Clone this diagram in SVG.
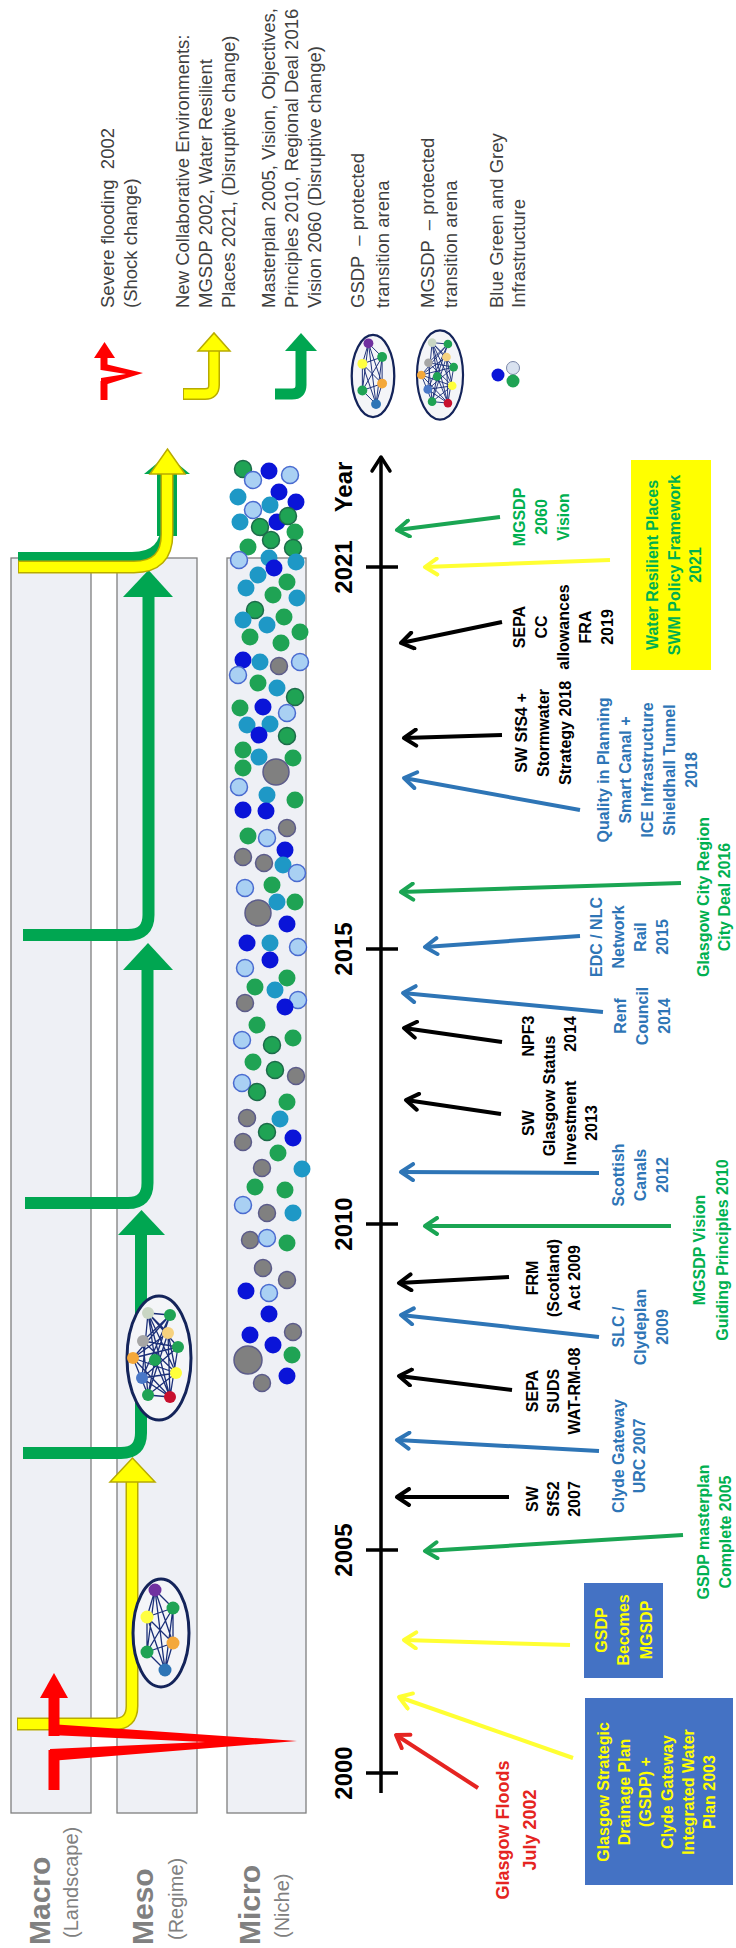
<svg xmlns="http://www.w3.org/2000/svg" xmlns:xlink="http://www.w3.org/1999/xlink" width="736" height="1948" viewBox="0 0 736 1948">
<defs>
<style>
.band{fill:#eef0f5;stroke:#7f7f7f;stroke-width:1.3}
.bl{font-family:'Liberation Sans',Arial,sans-serif;font-weight:bold;fill:#808080}
.bs{font-family:'Liberation Sans',Arial,sans-serif;fill:#808080;font-size:20px}
.lbl{font-family:'Liberation Sans',Arial,sans-serif;font-weight:bold;font-size:16px;text-anchor:middle}
.yr{font-family:'Liberation Sans',Arial,sans-serif;font-weight:bold;font-size:24px;text-anchor:middle;fill:#000}
.leg{font-family:'Liberation Sans',Arial,sans-serif;font-size:18.5px;fill:#404040;white-space:pre}
.tk{fill:#000}.tb{fill:#2e75b6}.tg{fill:#00b050}.tr{fill:#e52421;font-size:18px}.ty{fill:#ffff00}
.ev{fill:none;stroke-width:4}
.ek{stroke:#000;marker-end:url(#mk)}
.eb{stroke:#2e75b6;marker-end:url(#mb)}
.eg{stroke:#1aa553;marker-end:url(#mg)}
.ey{stroke:#ffff33;marker-end:url(#my)}
.er{stroke:#e52421;marker-end:url(#mr)}
.gL{fill:none;stroke:#00a651;stroke-width:12}
.gH{fill:#00a651}
.yO{fill:none;stroke:#b8ab00;stroke-width:13}
.yI{fill:none;stroke:#ffff00;stroke-width:10}
.yH{fill:#ffff00;stroke:#b8ab00;stroke-width:1.5}
.red{fill:#ff0000}
.redL{fill:none;stroke:#ff0000;stroke-width:11}
.cg{fill:#1fa354}
.cd{fill:#1fa354;stroke:#1d6b4a;stroke-width:1.5}
.cb{fill:#0a14d8}
.ct{fill:#1e98c6}
.cl{fill:#a9d0f3;stroke:#4a6bd0;stroke-width:1.5}
.ck{fill:#808080;stroke:#5c5c8a;stroke-width:1.5}
.ell{fill:#f4f5f8;stroke:#14245a;stroke-width:3}
.net{fill:none;stroke:#1b2f78;stroke-width:1.3}
</style>
<marker id="mk" viewBox="0 0 20 20" refX="17" refY="10" markerWidth="20" markerHeight="20" markerUnits="userSpaceOnUse" orient="auto"><path d="M5,2 L17,10 L5,18" fill="none" stroke="#000" stroke-width="4" stroke-linecap="round" stroke-linejoin="round"/></marker>
<marker id="mb" viewBox="0 0 20 20" refX="17" refY="10" markerWidth="20" markerHeight="20" markerUnits="userSpaceOnUse" orient="auto"><path d="M5,2 L17,10 L5,18" fill="none" stroke="#2e75b6" stroke-width="4" stroke-linecap="round" stroke-linejoin="round"/></marker>
<marker id="mg" viewBox="0 0 20 20" refX="17" refY="10" markerWidth="20" markerHeight="20" markerUnits="userSpaceOnUse" orient="auto"><path d="M5,2 L17,10 L5,18" fill="none" stroke="#1aa553" stroke-width="4" stroke-linecap="round" stroke-linejoin="round"/></marker>
<marker id="my" viewBox="0 0 20 20" refX="17" refY="10" markerWidth="20" markerHeight="20" markerUnits="userSpaceOnUse" orient="auto"><path d="M5,2 L17,10 L5,18" fill="none" stroke="#ffff33" stroke-width="4" stroke-linecap="round" stroke-linejoin="round"/></marker>
<marker id="mr" viewBox="0 0 20 20" refX="17" refY="10" markerWidth="20" markerHeight="20" markerUnits="userSpaceOnUse" orient="auto"><path d="M5,2 L17,10 L5,18" fill="none" stroke="#e52421" stroke-width="4" stroke-linecap="round" stroke-linejoin="round"/></marker>
<marker id="max" viewBox="0 0 24 24" refX="20" refY="12" markerWidth="24" markerHeight="24" markerUnits="userSpaceOnUse" orient="auto"><path d="M6,3 L20,12 L6,21" fill="none" stroke="#000" stroke-width="3.5" stroke-linecap="round" stroke-linejoin="round"/></marker>
<g id="netS">
<ellipse cx="0" cy="0" rx="54" ry="28" class="ell"/>
<path class="net" d="M43,-6L25,12M43,-6L16,-14M43,-6L-10,12M43,-6L-19,-14M43,-6L-37,4M25,12L16,-14M25,12L-10,12M25,12L-19,-14M25,12L-37,4M16,-14L-10,12M16,-14L-19,-14M16,-14L-37,4M-10,12L-19,-14M-10,12L-37,4M-19,-14L-37,4"/>
<circle cx="43" cy="-6" r="6.5" fill="#7030a0"/>
<circle cx="25" cy="12" r="6.5" fill="#1fa354"/>
<circle cx="16" cy="-14" r="6.5" fill="#ffff40"/>
<circle cx="-10" cy="12" r="6.5" fill="#f4a83a"/>
<circle cx="-19" cy="-14" r="6.5" fill="#1fa354"/>
<circle cx="-37" cy="4" r="6.5" fill="#2e75b6"/>
</g>
<g id="netM">
<ellipse cx="0" cy="0" rx="62" ry="32" class="ell"/>
<path class="net" d="M45,-11L43,11M45,-11L25,9M45,-11L11,19M45,-11L-2,-4M45,-11L-15,17M45,-11L-39,11M43,11L17,-16M43,11L0,-26M43,11L-2,-4M43,11L-20,-17M25,9L0,-26M25,9L-37,-11M25,9L-39,11M17,-16L11,19M17,-16L-15,17M17,-16L-37,-11M11,19L0,-26M11,19L-20,-17M11,19L-39,11M0,-26L-15,17M0,-26L-37,-11M-2,-4L-39,11M-2,-4L-37,-11M-15,17L-20,-17M-15,17L-37,-11M-20,-17L-39,11M45,-11L-20,-17M-37,-11L-39,11M0,-26L-39,11M25,9L-15,17"/>
<circle cx="45" cy="-11" r="6" fill="#c9d6c4"/>
<circle cx="43" cy="11" r="6" fill="#1fa354"/>
<circle cx="25" cy="9" r="6" fill="#f7d27e"/>
<circle cx="17" cy="-16" r="6" fill="#a6a6a6"/>
<circle cx="11" cy="19" r="6" fill="#1fa354"/>
<circle cx="0" cy="-26" r="6" fill="#f4a83a"/>
<circle cx="-2" cy="-4" r="6" fill="#1fa354"/>
<circle cx="-15" cy="17" r="6" fill="#ffff3a"/>
<circle cx="-20" cy="-17" r="6" fill="#4a78c8"/>
<circle cx="-37" cy="-11" r="6" fill="#1fa354"/>
<circle cx="-39" cy="11" r="6" fill="#c8102e"/>
</g>
</defs>
<rect x="0" y="0" width="736" height="1948" fill="#ffffff"/>
<g transform="translate(0,1948) rotate(-90)">

<g id="bands">
<rect class="band" x="135" y="11" width="1255" height="80"/>
<rect class="band" x="135" y="117" width="1255" height="80"/>
<rect class="band" x="135" y="227" width="1255" height="79"/>
<text class="bl" x="3" y="50" font-size="30">Macro</text>
<text class="bs" x="10" y="78">(Landscape)</text>
<text class="bl" x="3" y="153" font-size="30">Meso</text>
<text class="bs" x="8" y="183">(Regime)</text>
<text class="bl" x="3" y="260" font-size="30">Micro</text>
<text class="bs" x="10" y="289">(Niche)</text>
</g>

<g id="micro-circles">
<circle class="cd" cx="1479" cy="243" r="8.5"/><circle class="cb" cx="1477" cy="269" r="8.5"/><circle class="cl" cx="1473" cy="290" r="8.5"/><circle class="cl" cx="1468" cy="253" r="8.5"/><circle class="cb" cx="1456" cy="279" r="8.5"/><circle class="ct" cx="1451" cy="238" r="8.5"/><circle class="cb" cx="1446" cy="296" r="8.5"/><circle class="ct" cx="1443" cy="270" r="8.5"/><circle class="cl" cx="1438" cy="253" r="8.5"/><circle class="ct" cx="1426" cy="240" r="8.5"/><circle class="cb" cx="1426" cy="277" r="8.5"/><circle class="cd" cx="1432" cy="288" r="8.5"/><circle class="cd" cx="1421" cy="260" r="8.5"/><circle class="cg" cx="1416" cy="295" r="8.5"/><circle class="cd" cx="1408" cy="271" r="8.5"/><circle class="cg" cx="1401" cy="248" r="8.5"/><circle class="cd" cx="1400" cy="293" r="8.5"/><circle class="cl" cx="1388" cy="239" r="8.5"/><circle class="ct" cx="1390" cy="269" r="8.5"/><circle class="ct" cx="1386" cy="296" r="8.5"/><circle class="cb" cx="1380" cy="274" r="8.5"/><circle class="ct" cx="1373" cy="258" r="8.5"/><circle class="cg" cx="1366" cy="287" r="8.5"/><circle class="ct" cx="1360" cy="246" r="8.5"/><circle class="cg" cx="1353" cy="273" r="8.5"/><circle class="ct" cx="1350" cy="297" r="8.5"/><circle class="cd" cx="1338" cy="255" r="8.5"/><circle class="cg" cx="1331" cy="284" r="8.5"/><circle class="ct" cx="1328" cy="243" r="8.5"/><circle class="ct" cx="1323" cy="267" r="8.5"/><circle class="cg" cx="1316" cy="300" r="8.5"/><circle class="cg" cx="1311" cy="250" r="8.5"/><circle class="cg" cx="1305" cy="281" r="8.5"/><circle class="cb" cx="1288" cy="243" r="8.5"/><circle class="ct" cx="1286" cy="260" r="8.5"/><circle class="ck" cx="1282" cy="279" r="8.5"/><circle class="cl" cx="1286" cy="300" r="8.5"/><circle class="cl" cx="1273" cy="238" r="8.5"/><circle class="cg" cx="1265" cy="258" r="8.5"/><circle class="ct" cx="1260" cy="277" r="8.5"/><circle class="cd" cx="1251" cy="295" r="8.5"/><circle class="cg" cx="1240" cy="240" r="8.5"/><circle class="cb" cx="1241" cy="263" r="8.5"/><circle class="cl" cx="1235" cy="287" r="8.5"/><circle class="ct" cx="1223" cy="247" r="8.5"/><circle class="ct" cx="1224" cy="270" r="8.5"/><circle class="cb" cx="1213" cy="259" r="8.5"/><circle class="cd" cx="1212" cy="287" r="8.5"/><circle class="cg" cx="1198" cy="243" r="8.5"/><circle class="ct" cx="1191" cy="259" r="8.5"/><circle class="cg" cx="1190" cy="293" r="8.5"/><circle class="cg" cx="1180" cy="243" r="8.5"/><circle class="ck" cx="1176" cy="276" r="13"/><circle class="cl" cx="1161" cy="239" r="8.5"/><circle class="ct" cx="1153" cy="267" r="8.5"/><circle class="cg" cx="1148" cy="295" r="8.5"/><circle class="cb" cx="1138" cy="243" r="8.5"/><circle class="cb" cx="1137" cy="266" r="8.5"/><circle class="ck" cx="1120" cy="287" r="8.5"/><circle class="cg" cx="1112" cy="248" r="8.5"/><circle class="cl" cx="1110" cy="267" r="8.5"/><circle class="cb" cx="1098" cy="285" r="8.5"/><circle class="ck" cx="1091" cy="243" r="8.5"/><circle class="ck" cx="1085" cy="264" r="8.5"/><circle class="ct" cx="1083" cy="283" r="8.5"/><circle class="cl" cx="1075" cy="297" r="8.5"/><circle class="cg" cx="1063" cy="272" r="8.5"/><circle class="cl" cx="1060" cy="245" r="8.5"/><circle class="cg" cx="1046" cy="295" r="8.5"/><circle class="ct" cx="1046" cy="277" r="8.5"/><circle class="ck" cx="1035" cy="258" r="13"/><circle class="cb" cx="1024" cy="287" r="8.5"/>
<circle class="cb" cx="1005" cy="247" r="8.5"/><circle class="ct" cx="1005" cy="270" r="8.5"/><circle class="cl" cx="1001" cy="298" r="8.5"/><circle class="cb" cx="988" cy="270" r="8.5"/><circle class="cl" cx="980" cy="245" r="8.5"/><circle class="cg" cx="961" cy="255" r="8.5"/><circle class="ct" cx="958" cy="275" r="8.5"/><circle class="cg" cx="970" cy="287" r="8.5"/><circle class="cl" cx="948" cy="298" r="8.5"/><circle class="cb" cx="941" cy="285" r="8.5"/><circle class="ck" cx="945" cy="245" r="8.5"/><circle class="cg" cx="923" cy="257" r="8.5"/><circle class="cl" cx="908" cy="242" r="8.5"/><circle class="cd" cx="903" cy="272" r="8.5"/><circle class="cg" cx="910" cy="293" r="8.5"/><circle class="cg" cx="886" cy="253" r="8.5"/><circle class="cd" cx="878" cy="275" r="8.5"/><circle class="ck" cx="872" cy="296" r="8.5"/><circle class="cl" cx="865" cy="242" r="8.5"/><circle class="cd" cx="856" cy="257" r="8.5"/><circle class="cg" cx="846" cy="287" r="8.5"/><circle class="ct" cx="829" cy="280" r="8.5"/><circle class="ck" cx="830" cy="247" r="8.5"/><circle class="cd" cx="816" cy="267" r="8.5"/><circle class="cb" cx="810" cy="293" r="8.5"/><circle class="ck" cx="806" cy="243" r="8.5"/><circle class="cg" cx="795" cy="278" r="8.5"/><circle class="ck" cx="780" cy="262" r="8.5"/><circle class="ct" cx="779" cy="302" r="8.5"/><circle class="cg" cx="761" cy="255" r="8.5"/><circle class="cg" cx="758" cy="285" r="8.5"/><circle class="cl" cx="743" cy="243" r="8.5"/><circle class="ck" cx="735" cy="267" r="8.5"/><circle class="ct" cx="735" cy="293" r="8.5"/><circle class="ck" cx="708" cy="250" r="8.5"/><circle class="cl" cx="710" cy="267" r="8.5"/><circle class="cg" cx="705" cy="287" r="8.5"/><circle class="ck" cx="680" cy="263" r="8.5"/><circle class="ck" cx="668" cy="287" r="8.5"/><circle class="cb" cx="657" cy="246" r="8.5"/><circle class="cl" cx="655" cy="269" r="8.5"/><circle class="cb" cx="634" cy="269" r="8.5"/><circle class="ck" cx="616" cy="293" r="8.5"/><circle class="cb" cx="613" cy="250" r="8.5"/><circle class="cb" cx="603" cy="273" r="8.5"/><circle class="ck" cx="588" cy="248" r="14"/><circle class="cg" cx="593" cy="292" r="8.5"/><circle class="cb" cx="572" cy="287" r="8.5"/><circle class="ck" cx="565" cy="262" r="8.5"/>
</g>

<g id="transition-arrows">
<path class="yO" d="M224,17 V114 Q224,132 242,132 H467"/>
<path class="yI" d="M224,18 V114 Q224,132 242,132 H467"/>
<polygon class="yH" points="466,110 466,155 490,132.5"/>
<path class="gL" d="M495,23 V121 Q495,141 515,141 H714"/>
<polygon class="gH" points="713,118 713,165 738,141.5"/>
<path class="gL" d="M745,25 V128 Q745,147.5 765,147.5 H979"/>
<polygon class="gH" points="978,123 978,173 1005,148"/>
<path class="gL" d="M1013,23 V128 Q1013,148.5 1033,148.5 H1352"/>
<polygon class="gH" points="1351,123 1351,173 1378,148.5"/>
<path class="gL" d="M1390,18 V132 Q1390,167 1425,167 H1476"/>
<path d="M1412,167 H1476" fill="none" stroke="#00a651" stroke-width="20"/>
<polygon class="gH" points="1474,144 1474,190 1493,167"/>
<path class="yO" d="M1381,18 V134 Q1381,167 1414,167 H1476"/>
<path class="yI" d="M1381,19 V134 Q1381,167 1414,167 H1476"/>
<polygon class="yH" points="1474,150 1474,185 1499,167.5"/>
<path class="redL" d="M158,54 H198"/>
<polygon class="red" points="187,50 199,50 206,205 213,50 224,50 207,297"/>
<path class="redL" d="M212,54 H252"/>
<polygon class="red" points="250,40 250,68 275,54"/>
</g>

<g id="gsdp-arena"><use xlink:href="#netS" href="#netS" transform="translate(315,161)"/></g>
<g id="mgsdp-arena"><use xlink:href="#netM" href="#netM" transform="translate(590,159)"/></g>

<g id="timeline">
<line x1="155" y1="381" x2="1491" y2="381" stroke="#000" stroke-width="3.5" marker-end="url(#max)"/>
<path d="M175,366V398M398,366V398M724,366V398M999,366V398M1381,366V398" stroke="#000" stroke-width="3.5"/>
<text class="yr" x="175" y="352">2000</text>
<text class="yr" x="398" y="352">2005</text>
<text class="yr" x="724" y="352">2010</text>
<text class="yr" x="999" y="352">2015</text>
<text class="yr" x="1381" y="352">2021</text>
<text class="yr" x="1461" y="352">Year</text>
</g>

<g id="event-connectors">
<line class="ev er" x1="160" y1="478" x2="213" y2="396"/>
<line class="ev ey" x1="190" y1="573" x2="251" y2="399"/>
<line class="ev ey" x1="303" y1="570" x2="308" y2="404"/>
<line class="ev eg" x1="413" y1="683" x2="397" y2="425"/>
<line class="ev ek" x1="451" y1="509" x2="451" y2="397"/>
<line class="ev eb" x1="497" y1="599" x2="508" y2="397"/>
<line class="ev ek" x1="558" y1="512" x2="572" y2="399"/>
<line class="ev eb" x1="611" y1="599" x2="633" y2="401"/>
<line class="ev ek" x1="671" y1="509" x2="665" y2="399"/>
<line class="ev eg" x1="722" y1="671" x2="722" y2="425"/>
<line class="ev eb" x1="775" y1="599" x2="776" y2="401"/>
<line class="ev ek" x1="834" y1="501" x2="848" y2="406"/>
<line class="ev ek" x1="906" y1="502" x2="920" y2="404"/>
<line class="ev eb" x1="936" y1="603" x2="955" y2="403"/>
<line class="ev eb" x1="1012" y1="580" x2="1001" y2="425"/>
<line class="ev eg" x1="1065" y1="681" x2="1056" y2="401"/>
<line class="ev eb" x1="1138" y1="580" x2="1170" y2="404"/>
<line class="ev ek" x1="1213" y1="502" x2="1210" y2="404"/>
<line class="ev ek" x1="1326" y1="502" x2="1305" y2="401"/>
<line class="ev ey" x1="1388" y1="610" x2="1381" y2="425"/>
<line class="ev eg" x1="1431" y1="500" x2="1418" y2="397"/>
</g>

<g id="ev-floods"><text class="lbl tr" x="118" y="509">Glasgow Floods</text><text class="lbl tr" x="118" y="536">July 2002</text></g>
<g id="ev-gsdp-box"><rect x="63" y="585" width="187" height="148" fill="#4472c4"/>
<text class="lbl ty" x="156" y="609">Glasgow Strategic</text><text class="lbl ty" x="156" y="630">Drainage Plan</text><text class="lbl ty" x="156" y="651">(GSDP) +</text><text class="lbl ty" x="156" y="673">Clyde Gateway</text><text class="lbl ty" x="156" y="694">Integrated Water</text><text class="lbl ty" x="156" y="715">Plan 2003</text></g>
<g id="ev-mgsdp-box"><rect x="270" y="584" width="95" height="79" fill="#4472c4"/>
<text class="lbl ty" x="318" y="607">GSDP</text><text class="lbl ty" x="318" y="629">Becomes</text><text class="lbl ty" x="318" y="652">MGSDP</text></g>
<g id="ev-masterplan"><text class="lbl tg" x="416" y="709">GSDP masterplan</text><text class="lbl tg" x="416" y="731">Complete 2005</text></g>
<g id="ev-sfs2"><text class="lbl tk" x="449" y="538">SW</text><text class="lbl tk" x="449" y="559">SfS2</text><text class="lbl tk" x="449" y="580">2007</text></g>
<g id="ev-clyde"><text class="lbl tb" x="492" y="624">Clyde Gateway</text><text class="lbl tb" x="492" y="645">URC 2007</text></g>
<g id="ev-sepa-suds"><text class="lbl tk" x="557" y="538">SEPA</text><text class="lbl tk" x="557" y="559">SUDS</text><text class="lbl tk" x="557" y="580">WAT-RM-08</text></g>
<g id="ev-slc"><text class="lbl tb" x="621" y="624">SLC /</text><text class="lbl tb" x="621" y="646">Clydeplan</text><text class="lbl tb" x="621" y="668">2009</text></g>
<g id="ev-frm"><text class="lbl tk" x="670" y="538">FRM</text><text class="lbl tk" x="670" y="559">(Scotland)</text><text class="lbl tk" x="670" y="580">Act 2009</text></g>
<g id="ev-vision"><text class="lbl tg" x="698" y="705">MGSDP Vision</text><text class="lbl tg" x="698" y="728">Guiding Principles 2010</text></g>
<g id="ev-canals"><text class="lbl tb" x="773" y="624">Scottish</text><text class="lbl tb" x="773" y="646">Canals</text><text class="lbl tb" x="773" y="668">2012</text></g>
<g id="ev-sw-invest"><text class="lbl tk" x="825" y="534">SW</text><text class="lbl tk" x="825" y="555">Glasgow</text><text class="lbl tk" x="825" y="576">Investment</text><text class="lbl tk" x="825" y="597">2013</text></g>
<g id="ev-npf3"><text class="lbl tk" x="912" y="534">NPF3</text><text class="lbl tk" x="888" y="555">Status</text><text class="lbl tk" x="914" y="576">2014</text></g>
<g id="ev-renf"><text class="lbl tb" x="932" y="626">Renf</text><text class="lbl tb" x="932" y="648">Council</text><text class="lbl tb" x="932" y="670">2014</text></g>
<g id="ev-edc"><text class="lbl tb" x="1011" y="602">EDC / NLC</text><text class="lbl tb" x="1011" y="624">Network</text><text class="lbl tb" x="1011" y="646">Rail</text><text class="lbl tb" x="1011" y="668">2015</text></g>
<g id="ev-citydeal"><text class="lbl tg" x="1051" y="709">Glasgow City Region</text><text class="lbl tg" x="1051" y="730">City Deal 2016</text></g>
<g id="ev-quality"><text class="lbl tb" x="1178" y="609">Quality in Planning</text><text class="lbl tb" x="1178" y="631">Smart Canal +</text><text class="lbl tb" x="1178" y="653">ICE Infrastructure</text><text class="lbl tb" x="1178" y="675">Shieldhall Tunnel</text><text class="lbl tb" x="1178" y="697">2018</text></g>
<g id="ev-sfs4"><text class="lbl tk" x="1215" y="527">SW SfS4 +</text><text class="lbl tk" x="1215" y="549">Stormwater</text><text class="lbl tk" x="1215" y="571">Strategy 2018</text></g>
<g id="ev-sepa-cc"><text class="lbl tk" x="1321" y="525">SEPA</text><text class="lbl tk" x="1321" y="547">CC</text><text class="lbl tk" x="1321" y="569">allowances</text><text class="lbl tk" x="1321" y="591">FRA</text><text class="lbl tk" x="1321" y="613">2019</text></g>
<g id="ev-wrp"><rect x="1278" y="631" width="210" height="80" fill="#ffff00"/>
<text class="lbl tg" x="1383" y="658">Water Resilient Places</text><text class="lbl tg" x="1383" y="680">SWM Policy Framework</text><text class="lbl tg" x="1383" y="701">2021</text></g>
<g id="ev-2060"><text class="lbl tg" x="1431" y="525">MGSDP</text><text class="lbl tg" x="1431" y="547">2060</text><text class="lbl tg" x="1431" y="569">Vision</text></g>

<g id="legend">
<path d="M1548,104 H1567" fill="none" stroke="#ff0000" stroke-width="7"/>
<polygon class="red" points="1562,101 1570,101 1574,126 1578,101 1585,101 1575,143"/>
<path d="M1578,104 H1592" fill="none" stroke="#ff0000" stroke-width="7"/>
<polygon class="red" points="1590,94 1590,115 1606,104.5"/>
<path d="M1554,183 V205 Q1554,214 1563,214 H1598" fill="none" stroke="#b8ab00" stroke-width="12"/>
<path d="M1554,184 V205 Q1554,214 1563,214 H1598" fill="none" stroke="#ffff00" stroke-width="9"/>
<polygon class="yH" points="1597,198 1597,230 1615,214"/>
<path d="M1554,275 V292 Q1554,301 1563,301 H1598" fill="none" stroke="#00a651" stroke-width="11"/>
<polygon class="gH" points="1597,285 1597,317 1615,301"/>
<use xlink:href="#netS" href="#netS" transform="translate(1572,373) scale(0.76)"/>
<use xlink:href="#netM" href="#netM" transform="translate(1573,440) scale(0.72)"/>
<circle cx="1573" cy="498" r="6.5" fill="#0a14d8"/>
<circle cx="1580" cy="513" r="6.5" fill="#d9e2f0" stroke="#7a86a8" stroke-width="1"/>
<circle cx="1567" cy="513" r="6.5" fill="#1fa354"/>
<text class="leg" x="1640" y="114" xml:space="preserve">Severe flooding  2002</text>
<text class="leg" x="1640" y="137">(Shock change)</text>
<text class="leg" x="1640" y="189">New Collaborative Environments:</text>
<text class="leg" x="1640" y="212">MGSDP 2002, Water Resilient</text>
<text class="leg" x="1640" y="235">Places 2021, (Disruptive change)</text>
<text class="leg" x="1640" y="275">Masterplan 2005, Vision, Objectives,</text>
<text class="leg" x="1640" y="298">Principles 2010, Regional Deal 2016</text>
<text class="leg" x="1640" y="321">Vision 2060 (Disruptive change)</text>
<text class="leg" x="1640" y="364" xml:space="preserve">GSDP  – protected</text>
<text class="leg" x="1640" y="389">transition arena</text>
<text class="leg" x="1640" y="434" xml:space="preserve">MGSDP  – protected</text>
<text class="leg" x="1640" y="457">transition arena</text>
<text class="leg" x="1640" y="503">Blue Green and Grey</text>
<text class="leg" x="1640" y="525">Infrastructure</text>
</g>
</g>
</svg>
